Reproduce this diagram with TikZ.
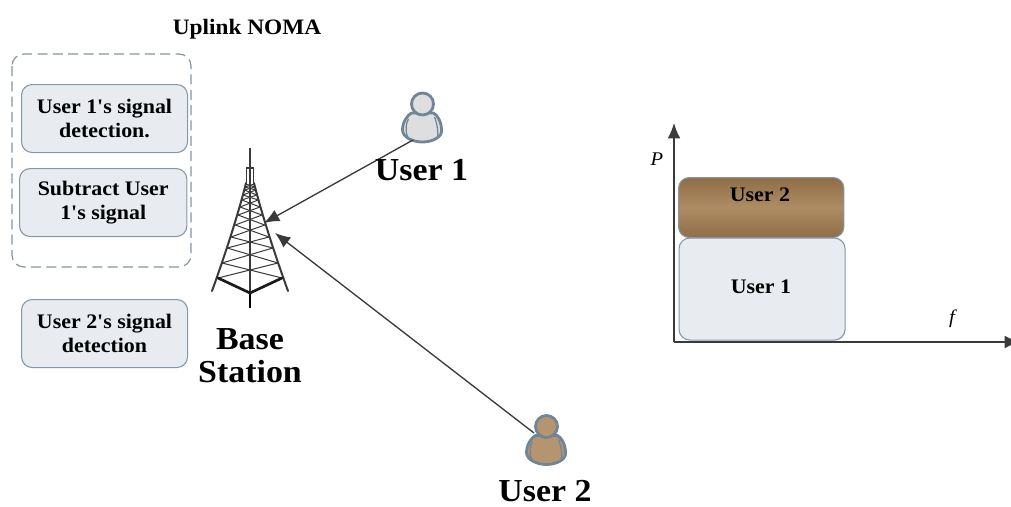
\documentclass[tikz,border=0pt]{standalone}
\usepackage{fontspec}
\newfontfamily\lib{Liberation Serif}[FakeStretch=1.06]
\usetikzlibrary{arrows.meta}
\definecolor{edgeblue}{HTML}{8497A8}
\definecolor{fillblue}{HTML}{E8ECF1}
\definecolor{dashc}{HTML}{84949F}
\definecolor{browndark}{HTML}{8F6F48}
\definecolor{brownlight}{HTML}{AE8C64}
\definecolor{personedge}{HTML}{6F8698}
\definecolor{ink}{HTML}{3A3A3A}
\tikzset{
  x=0.75pt,y=-0.75pt,
  stepbox/.style={draw=edgeblue,line width=0.8pt,fill=fillblue,rounded corners=8pt,inner sep=0pt,align=center,anchor=north west,font=\lib\bfseries\fontsize{15.5}{18.5}\selectfont},
  bigtxt/.style={font=\lib\bfseries\fontsize{24}{25}\selectfont,align=center,inner sep=0pt},
  smalltxt/.style={font=\lib\bfseries\fontsize{15.5}{18}\selectfont,inner sep=0pt},
  titletxt/.style={font=\lib\bfseries\fontsize{16.5}{18}\selectfont,inner sep=0pt},
  mathtxt/.style={font=\lib\itshape\fontsize{14.5}{16}\selectfont,inner sep=0pt},
  link/.style={draw=ink,line width=1pt,-{Latex[length=11.5pt,width=9.5pt]}},
  axisline/.style={draw=ink,line width=1pt,-{Latex[length=11.5pt,width=9.5pt]}},
  twr/.style={draw=ink,line width=1.5pt,line cap=round},
  twrthin/.style={draw=ink,line width=0.75pt},
  twrthick/.style={draw=black!90,line width=2pt,line cap=round},
}
\newcommand{\personfig}[2]{%
\begin{scope}[shift={(#1)}]
  \draw[personedge,line width=2.1pt,fill=#2]
    (-11,9) .. controls (-15,11) and (-20,18) .. (-20,26)
    .. controls (-20,33) and (-10,38) .. (0,38)
    .. controls (10,38) and (20,33) .. (19,26)
    .. controls (19,18) and (15,11) .. (11,9) -- cycle;
  \draw[personedge,line width=0.9pt] (-14,15) .. controls (-17,20) and (-17,27) .. (-15,33);
  \draw[personedge,line width=0.9pt] (12,13) .. controls (14,18) and (16,25) .. (15,33);
  \draw[personedge,line width=2.1pt,fill=#2] (0,0) circle (11);
\end{scope}}
\begin{document}
\begin{tikzpicture}
\useasboundingbox (0,0) rectangle (1011,507);
\begin{scope}
\clip (0,0) rectangle (1011,507);
\node[titletxt,anchor=center] (title) at (247,29) {Uplink NOMA};
\draw[dashc,line width=0.9pt,dash pattern=on 7.5pt off 4pt,rounded corners=9pt] (12,54) rectangle (191,267);
\node[stepbox,minimum width=124.5pt,minimum height=51pt] (b1) at (21,84) {User 1's signal\\detection.};
\node[stepbox,minimum width=125.5pt,minimum height=51pt] (b2) at (19,168) {Subtract User\\1's signal};
\node[stepbox,minimum width=124.5pt,minimum height=51pt] (b3) at (21,299) {User 2's signal\\detection};

% tower
\coordinate (ta) at (250,148);
\coordinate (tb) at (250,308);
\coordinate (lf) at (212,291);
\coordinate (rf) at (288,291);
\coordinate (tl) at (246,183);
\coordinate (tr) at (254,183);
\foreach \ya/\ha/\yb/\hb in {278/32/263/28, 263/28/248/22.8, 248/22.8/237/19, 237/19/225/14.7, 225/14.7/215/12, 215/12/207/10, 207/10/200/8.25, 200/8.25/195/7, 195/7/190/5.75, 190/5.75/187/5, 187/5/184/4.25}{
  \draw[twrthin] (250-\ha,\ya) -- (250+\hb,\yb);
  \draw[twrthin] (250+\ha,\ya) -- (250-\hb,\yb);
}
\draw[draw=ink,line width=1.7pt] (ta) -- (tb);
\draw[draw=black,line width=2.1pt] (250,294) -- (tb);
\draw[draw=ink,line width=1.3pt] (246.5,184) -- (246.5,168) -- (253.5,168) -- (253.5,184);
\draw[twr] (lf) .. controls (225,255) and (238,215) .. (tl);
\draw[twr] (rf) .. controls (275,255) and (262,215) .. (tr);
\draw[twrthick] (218,278) -- (250,293) -- (282,278);

% users
\personfig{422.5,104}{black!13}
\personfig{546.5,426.5}{brownlight!92!white}
\coordinate (u1) at (413,140);
\coordinate (u2) at (534,433);
\coordinate (t1) at (264,223);
\coordinate (t2) at (275,233);
\draw[link] (u1) -- (t1);
\draw[link] (u2) -- (t2);
\node[bigtxt] (lu1) at (421.5,170) {User 1};
\node[bigtxt] (lu2) at (545,491) {User 2};
\node[bigtxt] (lbs) at (250,356) {Base\\Station};

% chart
\coordinate (o) at (674,342);
\coordinate (py) at (674,123);
\coordinate (px) at (1020,342);
\node[draw=edgeblue,line width=0.8pt,fill=fillblue,rounded corners=8pt,inner sep=0pt,anchor=north west,minimum width=124.5pt,minimum height=76.5pt] (r1) at (678.5,237.5) {};
\node[draw=edgeblue,line width=0.8pt,rounded corners=8pt,inner sep=0pt,anchor=north west,minimum width=124pt,minimum height=45pt,top color=browndark,bottom color=browndark,middle color=brownlight] (r2) at (678,177) {};
\draw[axisline] (o) -- (py);
\draw[axisline] (o) -- (px);
\node[smalltxt] (l2) at (760,195) {User 2};
\node[smalltxt] (l1) at (761,287) {User 1};
\node[mathtxt] (lp) at (657,159) {P};
\node[mathtxt] (lf2) at (952,319) {f};
\end{scope}
\end{tikzpicture}
\end{document}
